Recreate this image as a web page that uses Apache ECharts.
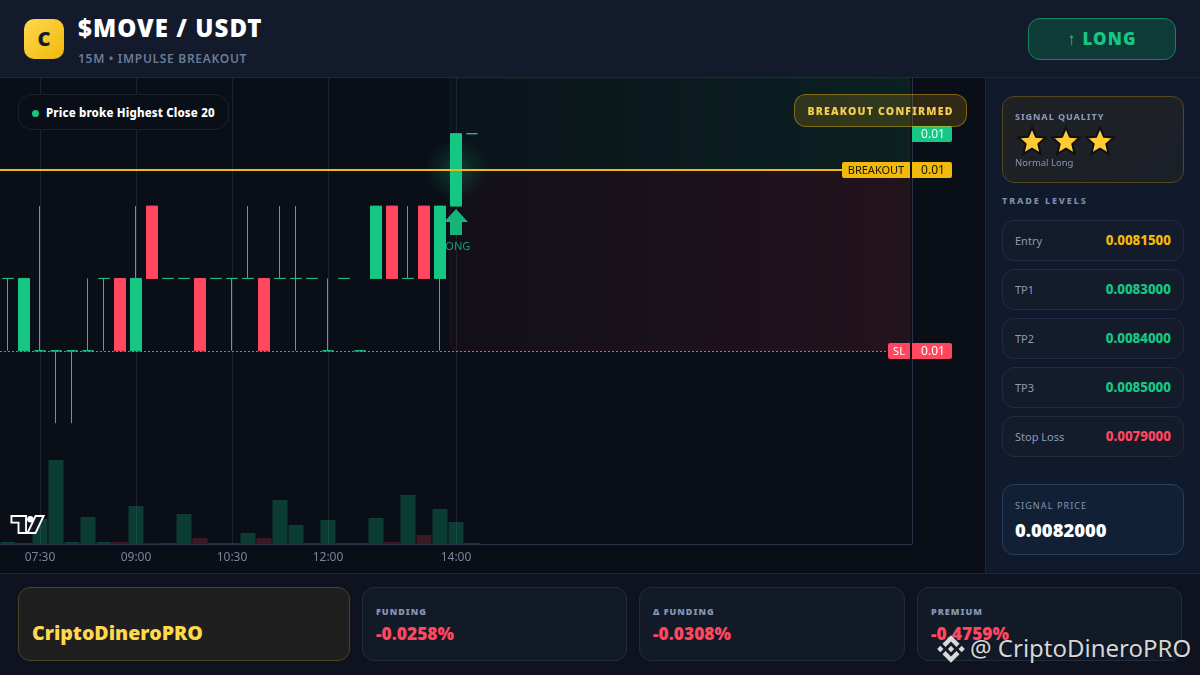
<!DOCTYPE html>
<html><head><meta charset="utf-8">
<script src="https://cdn.jsdelivr.net/npm/echarts@6/dist/echarts.min.js"></script>
<style>
*{box-sizing:border-box;margin:0;padding:0}
html,body{width:1200px;height:675px;overflow:hidden;background:#0a0e17;font-family:"Noto Sans",sans-serif}
.a{position:absolute;white-space:nowrap}
#chart{position:absolute;left:0;top:78px;width:985px;height:495px}
.card{position:absolute;border-radius:12px;border:1px solid #222c40;background:#141b2b}
</style></head><body>
<div class="a" style="left:0;top:0;width:1200px;height:78px;background:#121a2b;border-bottom:1px solid #1f2839"></div>
<div class="a" style="left:985px;top:78px;width:215px;height:495px;background:#111a2c;border-left:1px solid #1f2839"></div>
<div class="a" style="left:0;top:573px;width:1200px;height:102px;background:#0e131f;border-top:1px solid #1f2839"></div>
<div id="chart"></div>
<div id="ui"></div>
<script>
// ---- chart data ----
const times = ['07:00','07:15','07:30','07:45','08:00','08:15','08:30','08:45','09:00','09:15','09:30','09:45','10:00','10:15','10:30','10:45','11:00','11:15','11:30','11:45','12:00','12:15','12:30','12:45','13:00','13:15','13:30','13:45','14:00','14:15'];
const emptySlots = Array(27).fill('');
const tickLabels = ['07:30','09:00','10:30','12:00','14:00'];
const opens  = [0.0080,0.0079,0.0079,0.0079,0.0079,0.0079,0.0080,0.0080,0.0079,0.0081,0.0080,0.0080,0.0080,0.0080,0.0080,0.0080,0.0080,0.0080,0.0080,0.0080,0.0079,0.0080,0.0079,0.0080,0.0081,0.0080,0.0081,0.0080,0.0081,0.0082];
const closes = [0.0080,0.0080,0.0079,0.0079,0.0079,0.0079,0.0080,0.0079,0.0080,0.0080,0.0080,0.0080,0.0079,0.0080,0.0080,0.0080,0.0079,0.0080,0.0080,0.0080,0.0079,0.0080,0.0079,0.0081,0.0080,0.0080,0.0080,0.0081,0.0082,0.0082];
const lows   = [0.0079,0.0079,0.0079,0.0078,0.0078,0.0079,0.0079,0.0079,0.0079,0.0080,0.0080,0.0080,0.0079,0.0080,0.0079,0.0080,0.0079,0.0080,0.0079,0.0080,0.0079,0.0080,0.0079,0.0080,0.0080,0.0080,0.0080,0.0079,0.0081,0.0082];
const highs  = [0.0080,0.0080,0.0081,0.0079,0.0079,0.0080,0.0080,0.0080,0.0081,0.0081,0.0080,0.0080,0.0080,0.0080,0.0080,0.0081,0.0080,0.0081,0.0081,0.0080,0.0080,0.0080,0.0079,0.0081,0.0081,0.0081,0.0081,0.0081,0.0082,0.0082];
const volumes= [2,1,25,84,2,27,2,2,38,1,1,30,6,1,1,11,6,44,19,1,24,1,1,26,2,49,9,35,22,1];
const priceMin = 0.007633, priceMax = 0.008277;
const volumeMax = 466;
const signalIndex = 28;
const breakoutPrice = 0.00815, stopPrice = 0.0079, signalClose = 0.0082, arrowPrice = 0.0081;
const tagText = '0.01';
const UP = '#16c784', DOWN = '#ff4760', GOLD = '#f0b90b';

// ---- panels text ----
const tradeLevels = [['Entry','0.0081500',GOLD],['TP1','0.0083000',UP],['TP2','0.0084000',UP],['TP3','0.0085000',UP],['Stop Loss','0.0079000',DOWN]];
const metrics = [['FUNDING','-0.0258%',362,265],['Δ FUNDING','-0.0308%',639,266],['PREMIUM','-0.4759%',917,265]];

const isTick = (i, v) => tickLabels.includes(v);
const chart = echarts.init(document.getElementById('chart'));
const tags = [
  {price: signalClose, main: tagText, color: UP, fg:'#eafff6'},
  {price: breakoutPrice, main: tagText, color: GOLD, fg:'#1a1406', side:'BREAKOUT', sideW:68},
  {price: stopPrice, main: tagText, color: DOWN, fg:'#fff', side:'SL', sideW:22}
];
const levelLines = [
  {price: breakoutPrice, stroke: GOLD, width: 2, dash: null},
  {price: stopPrice, stroke: '#ff4760', width: 1, dash: [2,2]}
];
chart.setOption({
  animation:false,
  grid:{left:-1.5,right:73,top:0,bottom:29,containLabel:false,show:false},
  xAxis:{type:'category',data:times.concat(emptySlots),boundaryGap:true,
    axisLine:{show:true,lineStyle:{color:'#2a3448',width:1}},axisTick:{show:false},
    axisLabel:{interval:isTick,color:'#78859b',fontSize:12,margin:8,fontFamily:'Noto Sans'},
    splitLine:{show:true,alignWithLabel:true,interval:isTick,lineStyle:{color:'#1a2130',width:1}}},
  yAxis:[
    {type:'value',min:priceMin,max:priceMax,position:'right',splitLine:{show:false},axisLabel:{show:false},axisTick:{show:false},
      axisLine:{show:true,lineStyle:{color:'#2a3448',width:1}}},
    {type:'value',min:0,max:volumeMax,show:false,splitLine:{show:false}}
  ],
  series:[
    {type:'custom',z:1,clip:false,silent:true,data:[[signalIndex,priceMax,breakoutPrice,0],[signalIndex,breakoutPrice,stopPrice,1]],
      renderItem(p,api){
        const a=api.coord([api.value(0),api.value(1)]),b=api.coord([api.value(0),api.value(2)]);
        const red=api.value(3)===1, x=a[0]-6, w=910-x;
        return {type:'rect',shape:{x,y:a[1],width:w,height:b[1]-a[1],r:red?[0,0,0,8]:0},
          style:{fill:new echarts.graphic.LinearGradient(0,0,1,0,red?
            [{offset:0,color:'rgba(255,71,87,0.035)'},{offset:1,color:'rgba(255,71,87,0.10)'}]:
            [{offset:0,color:'rgba(22,199,132,0.03)'},{offset:1,color:'rgba(22,199,132,0.10)'}]),
            stroke:red?'rgba(255,71,87,0.10)':'rgba(120,200,170,0.06)',lineWidth:1}};
      },encode:{x:0,y:1}},
    {type:'bar',yAxisIndex:1,z:2,barWidth:15,silent:true,
      data:volumes.map((v,i)=>({value:v,itemStyle:{color:closes[i]<opens[i]?'rgba(255,71,87,0.2)':'rgba(22,199,132,0.25)'}}))},
    {type:'scatter',z:3,silent:true,symbol:'circle',symbolSize:64,
      itemStyle:{opacity:1,color:new echarts.graphic.RadialGradient(0.5,0.5,0.5,[{offset:0,color:'rgba(22,199,132,0.24)'},{offset:0.55,color:'rgba(22,199,132,0.10)'},{offset:1,color:'rgba(22,199,132,0)'}])},
      data:[[signalIndex,breakoutPrice]]},
    {type:'scatter',z:3,silent:true,symbol:'path://M12 0L24 13L18 13L18 26L6 26L6 13L0 13Z',symbolSize:[24,26],symbolOffset:[0,16],
      itemStyle:{color:'#16bf80',opacity:0.95},
      label:{show:true,formatter:'LONG',position:'bottom',distance:6,offset:[-1,0],color:'#13a871',fontSize:11,fontFamily:'Noto Sans'},
      data:[[signalIndex,arrowPrice]]},
    {type:'candlestick',z:5,barWidth:11,silent:true,
      data:opens.map((o,i)=>[o,closes[i],lows[i],highs[i]]),
      itemStyle:{color:UP,color0:DOWN,borderColor:UP,borderColor0:DOWN,borderColorDoji:UP,borderWidth:1}},
    {type:'custom',z:6,clip:false,silent:true,data:levelLines.map(l=>[0,l.price]),encode:{x:0,y:1},
      renderItem(p,api){
        const l=levelLines[p.dataIndex],y=Math.round(api.coord([0,api.value(1)])[1])+(l.width%2?0.5:0);
        return {type:'line',shape:{x1:0,y1:y,x2:910,y2:y},style:{stroke:l.stroke,lineWidth:l.width,lineDash:l.dash}};
      }},
    {type:'custom',z:8,clip:false,silent:true,data:tags.map(t=>[0,t.price]),encode:{x:0,y:1},
      renderItem(p,api){
        const i=p.dataIndex,t=tags[i],y=Math.round(api.coord([0,api.value(1)])[1]),rightX=912,h=16;
        const kids=[
          {type:'rect',shape:{x:rightX,y:y-h/2,width:40,height:h,r:[0,2,2,0]},style:{fill:t.color}},
          {type:'text',style:{x:rightX+21,y:y+1,text:t.main,fill:t.fg,font:'12px "Noto Sans"',textAlign:'center',textVerticalAlign:'middle'}}
        ];
        if(t.side){
          kids.push({type:'rect',shape:{x:rightX-2-t.sideW,y:y-h/2,width:t.sideW,height:h,r:[2,0,0,2]},style:{fill:t.color}});
          kids.push({type:'text',style:{x:rightX-2-t.sideW/2,y:y+1,text:t.side,fill:t.fg,font:'11px "Noto Sans"',textAlign:'center',textVerticalAlign:'middle'}});
        }
        return {type:'group',children:kids};
      }}
  ]
});

// ---- surrounding panels ----
const ui=[];
const T=(x,yc,s,css)=>ui.push(`<div class="a" style="left:${x}px;top:${yc}px;transform:translateY(-50%);line-height:1;${css}">${s}</div>`);
// header
ui.push('<div class="a" style="left:24px;top:19px;width:40px;height:40px;border-radius:10px;background:linear-gradient(135deg,#ffd84d,#f0b90b);color:#121a2b;font-weight:900;font-size:20px;line-height:40px;text-align:center">C</div>');
T(78,28,'$MOVE / USDT','font-size:24px;font-weight:900;color:#fff;letter-spacing:1.05px');
T(78,59,'15M • IMPULSE BREAKOUT','font-size:12px;font-weight:600;color:#6c7b95;letter-spacing:.7px');
ui.push('<div class="a" style="left:1028px;top:18px;width:148px;height:42px;border-radius:12px;background:#0e3a37;border:1px solid #12855f;color:#16c784;font-weight:900;font-size:17px;line-height:40px;text-align:center;letter-spacing:1.1px">↑ LONG</div>');
// chart overlays
ui.push('<div class="a" style="left:18px;top:94px;width:211px;height:36px;border-radius:14px;background:#0a0e16;border:1px solid #1a2130"></div>');
ui.push('<div class="a" style="left:32px;top:110px;width:7px;height:7px;border-radius:50%;background:#16c784"></div>');
T(46,113,'Price broke Highest Close 20','font-size:11.5px;font-weight:800;color:#fff;letter-spacing:.15px');
ui.push('<div class="a" style="left:794px;top:94px;width:173px;height:33px;border-radius:12px;background:rgba(240,185,11,.16);border:1px solid rgba(240,185,11,.42);color:#f6cf4e;font-weight:900;font-size:10.5px;line-height:32px;text-align:center;letter-spacing:1.2px">BREAKOUT CONFIRMED</div>');
ui.push('<svg class="a" style="left:10px;top:514px" width="35" height="21" viewBox="0 0 37 21"><path d="M1.5 1.5H17V19.5H9V8.5H1.5Z" fill="#131722" stroke="#fff" stroke-width="2"/><circle cx="21.5" cy="5" r="3.4" fill="#fff"/><path d="M27 1.5H35.5L27 19.5H18.5Z" fill="#131722" stroke="#fff" stroke-width="2"/></svg>');
// sidebar
ui.push('<div class="card" style="left:1002px;top:96px;width:182px;height:87px;border-color:#54481f;background:linear-gradient(135deg,#1f2124,#1b1f28)"></div>');
T(1015,116,'SIGNAL QUALITY','font-size:9px;font-weight:800;letter-spacing:.9px;color:#8496b5');
[1032,1066,1100].forEach(x=>ui.push(`<svg class="a" style="left:${x-16}px;top:125px" width="32" height="32" viewBox="0 0 30 30"><path d="M15 2.5L18.7 11L27.8 11.8L20.9 17.9L23 27L15 22.2L7 27L9.1 17.9L2.2 11.8L11.3 11Z" fill="#ffcc33" stroke="#0c0f14" stroke-width="1.8"/></svg>`));
T(1015,163,'Normal Long','font-size:9.5px;color:#8496b5');
T(1002,200,'TRADE LEVELS','font-size:9px;font-weight:800;letter-spacing:1.9px;color:#7f8ea8');
tradeLevels.forEach((r,i)=>{const y=220+49*i;
  ui.push(`<div class="card" style="left:1002px;top:${y}px;width:182px;height:41px"></div>`);
  T(1015,y+19.5,r[0],'font-size:11px;color:#8c9ab3');
  ui.push(`<div class="a" style="right:29px;top:${y+21}px;transform:translateY(-50%);line-height:1;font-size:13.3px;font-weight:800;color:${r[2]}">${r[1]}</div>`);
});
ui.push('<div class="card" style="left:1002px;top:484px;width:182px;height:71px;background:#122036;border-color:#28405f"></div>');
T(1015,505,'SIGNAL PRICE','font-size:9px;letter-spacing:1.1px;color:#8496b5');
T(1015,530,'0.0082000','font-size:18.4px;font-weight:900;color:#fff');
// footer
ui.push('<div class="card" style="left:18px;top:587px;width:332px;height:74px;background:#1e1f1e;border-color:#4a4420"></div>');
T(32,633,'CriptoDineroPRO','font-size:19.6px;font-weight:900;color:#ffd84d');
metrics.forEach(m=>{
  ui.push(`<div class="card" style="left:${m[2]}px;top:587px;width:${m[3]}px;height:74px;background:#131a27"></div>`);
  T(m[2]+14,611,m[0],'font-size:9px;font-weight:900;letter-spacing:1px;color:#8496b5');
  T(m[2]+14,634,m[1],'font-size:17.4px;font-weight:900;color:#ff4760');
});
// watermark
ui.push('<svg class="a" style="left:937px;top:635px" width="28" height="28" viewBox="0 0 32 32"><path fill="#d9d9d9" d="M9.8 13.6 16 7.4l6.2 6.2 3.6-3.6L16 .2 6.2 10l3.6 3.6zM.2 16l3.6-3.6L7.4 16l-3.6 3.6L.2 16zm9.6 2.4L16 24.6l6.2-6.2 3.6 3.6L16 31.8 6.2 22l3.6-3.6zM24.6 16l3.6-3.6 3.6 3.6-3.6 3.6-3.6-3.6zM19.6 16 16 12.4 13.4 15l-.3.3-.6.6L16 19.6l3.6-3.6z"/></svg>');
T(970,648,'@ CriptoDineroPRO','font-size:24px;color:#d6d6d6;text-shadow:0 1px 2px rgba(0,0,0,.6)');
document.getElementById('ui').innerHTML=ui.join('');
</script>
</body></html>
